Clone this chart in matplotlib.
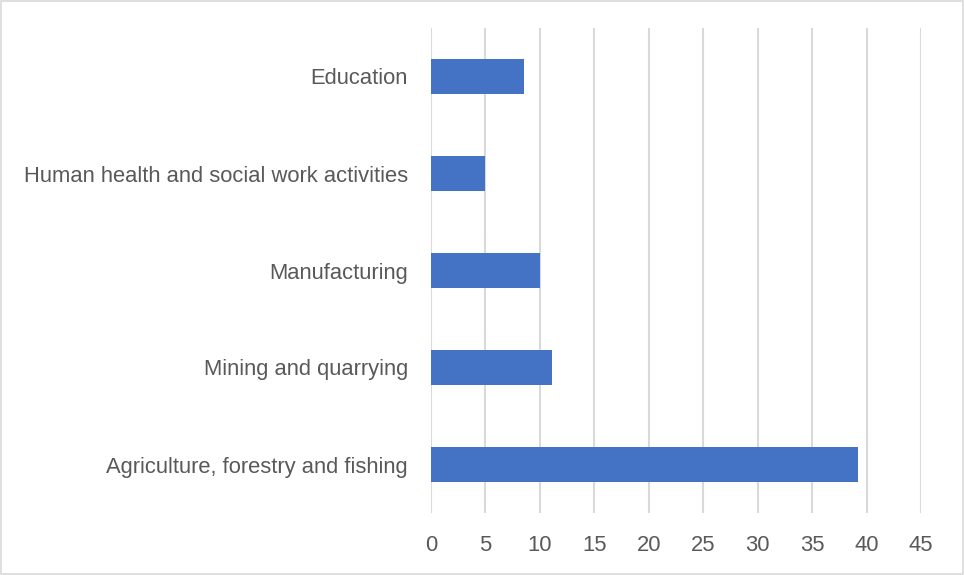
import matplotlib.pyplot as plt
from matplotlib.patches import Rectangle

# 업종별 값 (아래에서 위 순서)
categories = ['Agriculture, forestry and fishing', 'Mining and quarrying',
              'Manufacturing', 'Human health and social work activities',
              'Education']
values = [39.2, 11.1, 10.0, 5.0, 8.55]
xticks = [0, 5, 10, 15, 20, 25, 30, 35, 40, 45]

plt.rcParams['font.family'] = ['Liberation Sans', 'DejaVu Sans']

fig = plt.figure(figsize=(9.64, 5.75), dpi=100)
ax = fig.add_axes([431/964, 1-513/575, (921-431)/964, (513-28)/575])

ax.barh(range(len(categories)), values, height=0.36, color='#4472C4', zorder=3)

ax.set_xlim(0, 45)
ax.set_ylim(-0.5, len(categories) - 0.5)
ax.set_xticks(xticks)
ax.set_yticks(range(len(categories)))
ax.set_yticklabels(categories)
ax.xaxis.grid(True, color='#D9D9D9', linewidth=1.5, zorder=0)
ax.tick_params(axis='y', length=0, labelsize=15.8, colors='#595959', pad=16.5)
ax.tick_params(axis='x', length=0, labelsize=15.8, colors='#595959', pad=16)
for s in ax.spines.values():
    s.set_visible(False)

# 바깥 테두리
fig.patches.append(Rectangle((0.001, 0.001), 0.998, 0.997, transform=fig.transFigure,
                             fill=False, edgecolor='#D9D9D9', linewidth=1.2))

fig.savefig('out.png', dpi=100)
